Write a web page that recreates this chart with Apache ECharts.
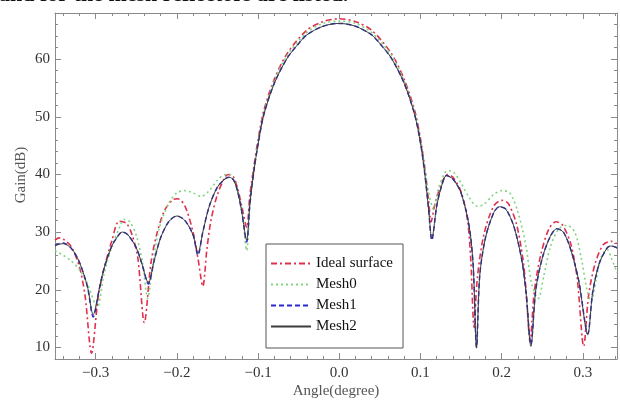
<!DOCTYPE html>
<html>
<head>
<meta charset="utf-8">
<script src="https://cdn.jsdelivr.net/npm/echarts@6/dist/echarts.min.js"></script>
<style>html,body{margin:0;padding:0;background:#fff;}#c{width:620px;height:405px;}</style>
</head>
<body>
<div id="c"></div>
<script>
// ---- Data ----
var seriesNames = ['Ideal surface', 'Mesh0', 'Mesh1', 'Mesh2'];
var captionText = 'and for the mesh reflectors are listed.';
var xTitle = 'Angle(degree)';
var yTitle = 'Gain(dB)';

var idealAngle = [-0.35,-0.345,-0.34,-0.33,-0.32,-0.313,-0.305,-0.297,-0.29,-0.28,-0.271,-0.262,-0.255,-0.248,-0.24,-0.232,-0.225,-0.215,-0.205,-0.199,-0.19,-0.18,-0.174,-0.168,-0.163,-0.158,-0.15,-0.14,-0.135,-0.13,-0.125,-0.12,-0.114,-0.11,-0.105,-0.1,-0.093,-0.08,-0.064,-0.04,-0.02,0,0.02,0.04,0.064,0.08,0.093,0.1,0.105,0.11,0.113,0.118,0.125,0.133,0.14,0.15,0.158,0.162,0.166,0.17,0.178,0.19,0.2,0.208,0.218,0.226,0.23,0.235,0.24,0.248,0.258,0.267,0.275,0.285,0.293,0.301,0.307,0.315,0.325,0.335,0.342];
var idealGain  = [28.6,29.0,28.8,27.5,24.0,19.0,9.0,18.5,23.5,28.5,31.9,31.5,29.5,25.5,14.3,24.5,29.5,33.8,35.6,35.8,34.5,30.0,25.5,20.6,27.0,32.0,36.5,39.7,40.0,39.5,37.5,34.5,30.8,36.5,41.5,46.0,51.0,56.5,61.0,65.0,66.5,67.0,66.5,65.0,61.0,56.5,51.0,46.2,41.5,35.5,31.8,35.0,38.0,40.0,39.5,37.0,32.0,25.0,13.5,22.0,29.5,34.5,35.5,35.0,31.5,25.5,20.0,11.0,19.5,26.0,30.5,31.8,31.2,28.0,22.0,10.2,19.0,24.5,27.8,28.4,28.0];

var mesh0Angle = [-0.35,-0.345,-0.34,-0.33,-0.32,-0.31,-0.298,-0.29,-0.28,-0.27,-0.265,-0.258,-0.25,-0.242,-0.236,-0.23,-0.222,-0.21,-0.2,-0.19,-0.18,-0.17,-0.16,-0.15,-0.14,-0.135,-0.128,-0.12,-0.114,-0.11,-0.105,-0.1,-0.093,-0.08,-0.064,-0.04,-0.02,0,0.02,0.04,0.064,0.08,0.093,0.1,0.105,0.11,0.116,0.122,0.13,0.135,0.142,0.15,0.16,0.17,0.178,0.19,0.2,0.21,0.22,0.23,0.237,0.245,0.252,0.26,0.27,0.28,0.29,0.298,0.305,0.31,0.316,0.322,0.33,0.335,0.342];
var mesh0Gain  = [26.8,26.4,26.0,25.0,23.5,21.0,17.0,22.5,27.5,31.0,32.2,31.8,29.5,24.5,18.5,24.0,30.5,35.0,36.8,37.2,36.8,36.2,37.2,39.0,40.0,39.9,38.5,34.0,26.8,34.5,40.8,45.5,50.6,56.2,60.7,64.6,66.2,66.6,66.2,64.6,60.7,56.2,50.6,46.0,41.5,37.0,34.0,37.5,40.3,40.7,40.2,38.5,36.0,34.5,34.8,36.5,37.2,36.8,33.5,27.5,21.0,18.5,22.5,27.5,30.5,31.2,30.0,25.5,20.0,18.0,21.5,25.5,27.0,25.5,23.0];

var mesh1Angle = [-0.35,-0.345,-0.34,-0.33,-0.32,-0.31,-0.303,-0.295,-0.29,-0.28,-0.27,-0.267,-0.26,-0.25,-0.243,-0.235,-0.228,-0.22,-0.21,-0.2,-0.19,-0.18,-0.174,-0.168,-0.16,-0.15,-0.14,-0.135,-0.13,-0.125,-0.12,-0.114,-0.11,-0.105,-0.1,-0.093,-0.08,-0.064,-0.05,-0.04,-0.02,0,0.02,0.04,0.05,0.064,0.08,0.093,0.1,0.105,0.11,0.114,0.12,0.125,0.132,0.14,0.15,0.16,0.165,0.169,0.173,0.18,0.19,0.197,0.205,0.215,0.225,0.23,0.236,0.242,0.25,0.26,0.268,0.276,0.285,0.295,0.306,0.312,0.32,0.33,0.335,0.342];
var mesh1Gain  = [27.7,28.0,28.1,27.2,24.8,20.5,15.3,20.5,23.5,27.6,29.8,30.0,29.5,27.3,24.5,21.0,25.0,29.0,31.8,32.8,32.0,29.5,26.0,30.0,34.5,37.8,39.3,39.5,39.0,37.0,33.5,28.3,35.0,40.7,45.2,50.3,55.8,60.2,62.7,64.2,65.7,66.2,65.7,64.2,62.7,60.2,55.8,50.3,45.5,40.5,34.0,28.6,34.5,37.5,39.8,39.2,36.8,31.0,24.0,10.0,22.5,29.0,33.3,34.4,34.0,31.0,25.0,19.5,10.5,20.0,25.5,29.3,30.6,30.0,27.0,21.5,12.4,19.5,24.5,27.3,27.6,27.3];

var mesh2Angle = [-0.35,-0.345,-0.34,-0.33,-0.32,-0.31,-0.303,-0.295,-0.29,-0.28,-0.27,-0.267,-0.26,-0.25,-0.243,-0.235,-0.228,-0.22,-0.21,-0.2,-0.19,-0.18,-0.174,-0.168,-0.16,-0.15,-0.14,-0.135,-0.13,-0.125,-0.12,-0.114,-0.11,-0.105,-0.1,-0.093,-0.08,-0.064,-0.05,-0.04,-0.02,0,0.02,0.04,0.05,0.064,0.08,0.093,0.1,0.105,0.11,0.114,0.12,0.125,0.132,0.14,0.15,0.16,0.165,0.169,0.173,0.18,0.19,0.197,0.205,0.215,0.225,0.23,0.236,0.242,0.25,0.26,0.268,0.276,0.285,0.295,0.306,0.312,0.32,0.33,0.335,0.342];
var mesh2Gain  = [27.6,27.9,28.0,27.2,24.8,20.5,15.7,20.5,23.5,27.6,29.8,30.0,29.5,27.3,24.5,21.2,25.0,29.0,31.8,32.8,32.0,29.5,26.3,30.0,34.5,37.8,39.3,39.5,39.0,37.0,33.5,28.6,35.0,40.7,45.2,50.3,55.8,60.2,62.7,64.2,65.7,66.2,65.7,64.2,62.7,60.2,55.8,50.3,45.5,40.5,34.0,28.9,34.5,37.5,39.8,39.2,36.8,31.0,24.0,9.9,22.5,29.0,33.3,34.4,34.0,31.0,25.0,19.5,10.2,20.0,25.5,29.3,30.6,30.0,27.0,21.5,12.2,19.5,24.5,27.3,27.6,27.2];

var xMin = -0.35, xMax = 0.342, yMin = 8, yMax = 68;

function zip(a, b) { return a.map(function (v, i) { return [v, b[i]]; }); }

var serif = '"Liberation Serif", "DejaVu Serif", serif';
var frameColor = '#8a8a8a';

var chart = echarts.init(document.getElementById('c'), null, {renderer: 'canvas'});

function xAx(pos, showLabel) {
  return {
    type: 'value', position: pos, min: xMin, max: xMax,
    axisLine: {show: true, onZero: false, lineStyle: {color: frameColor, width: 1}},
    axisTick: {show: true, inside: true, length: 6, lineStyle: {color: frameColor}},
    minorTick: {show: true, splitNumber: 5, length: 3, lineStyle: {color: frameColor}},
    splitLine: {show: false},
    axisLabel: {
      show: showLabel, showMinLabel: false, showMaxLabel: false, margin: 7,
      fontFamily: serif, fontSize: 15, color: '#333',
      formatter: function (v) { return (v < 0 ? '\u2212' : '') + Math.abs(v).toFixed(1); }
    },
    name: showLabel ? xTitle : '', nameLocation: 'middle', nameGap: 25, nameMoveOverlap: false,
    nameTextStyle: {fontFamily: serif, fontSize: 15, color: '#555'}
  };
}
function yAx(pos, showLabel, minor) {
  var a = {
    type: 'value', position: pos, min: yMin, max: yMax,
    axisLine: {show: !minor, onZero: false, lineStyle: {color: frameColor, width: 1}},
    axisTick: {show: true, inside: true, length: minor ? 3 : 6, lineStyle: {color: frameColor}},
    splitLine: {show: false},
    axisLabel: {
      show: showLabel, showMinLabel: false, showMaxLabel: false, margin: 5,
      fontFamily: serif, fontSize: 15, color: '#333'
    },
    name: showLabel ? yTitle : '', nameLocation: 'middle', nameGap: 26, nameRotate: 90, nameMoveOverlap: false,
    nameTextStyle: {fontFamily: serif, fontSize: 15, color: '#555', padding: [0, 0, 0, 22]}
  };
  if (minor) a.interval = 2;
  return a;
}

var styles = [
  {color: '#e0304c', type: [6, 3, 2, 3], width: 1.6},
  {color: '#7fd67f', type: [2, 3], width: 1.6},
  {color: '#2a2ad0', type: [5, 3], width: 1.5},
  {color: '#3c3c3c', type: 'solid', width: 1}
];
var dataSets = [zip(idealAngle, idealGain), zip(mesh0Angle, mesh0Gain), zip(mesh1Angle, mesh1Gain), zip(mesh2Angle, mesh2Gain)];

chart.setOption({
  animation: false,
  backgroundColor: '#fff',
  graphic: [{
    type: 'text', left: -1, top: -16,
    style: {text: captionText, font: 'bold 22px "Liberation Serif"', fill: '#111'}
  }],
  grid: {left: 55, right: 3, top: 13, bottom: 46, containLabel: false},
  xAxis: [xAx('bottom', true), xAx('top', false)],
  yAxis: [yAx('left', true, false), yAx('left', false, true), yAx('right', false, false), yAx('right', false, true)],
  legend: {
    orient: 'vertical', left: 266, top: 244,
    padding: [12, 10, 14, 4], itemGap: 6, itemWidth: 40, itemHeight: 14,
    borderColor: '#555', borderWidth: 1, backgroundColor: '#fff',
    itemStyle: {color: 'transparent', borderWidth: 0, opacity: 0},
    textStyle: {fontFamily: serif, fontSize: 15, color: '#111'},
    data: seriesNames
  },
  series: seriesNames.map(function (n, i) {
    return {
      name: n, type: 'line', xAxisIndex: 0, yAxisIndex: 0,
      data: dataSets[i], symbol: 'none', smooth: 0.3,
      lineStyle: styles[i], itemStyle: {color: styles[i].color}, z: 2 + i
    };
  })
});
</script>
</body>
</html>
